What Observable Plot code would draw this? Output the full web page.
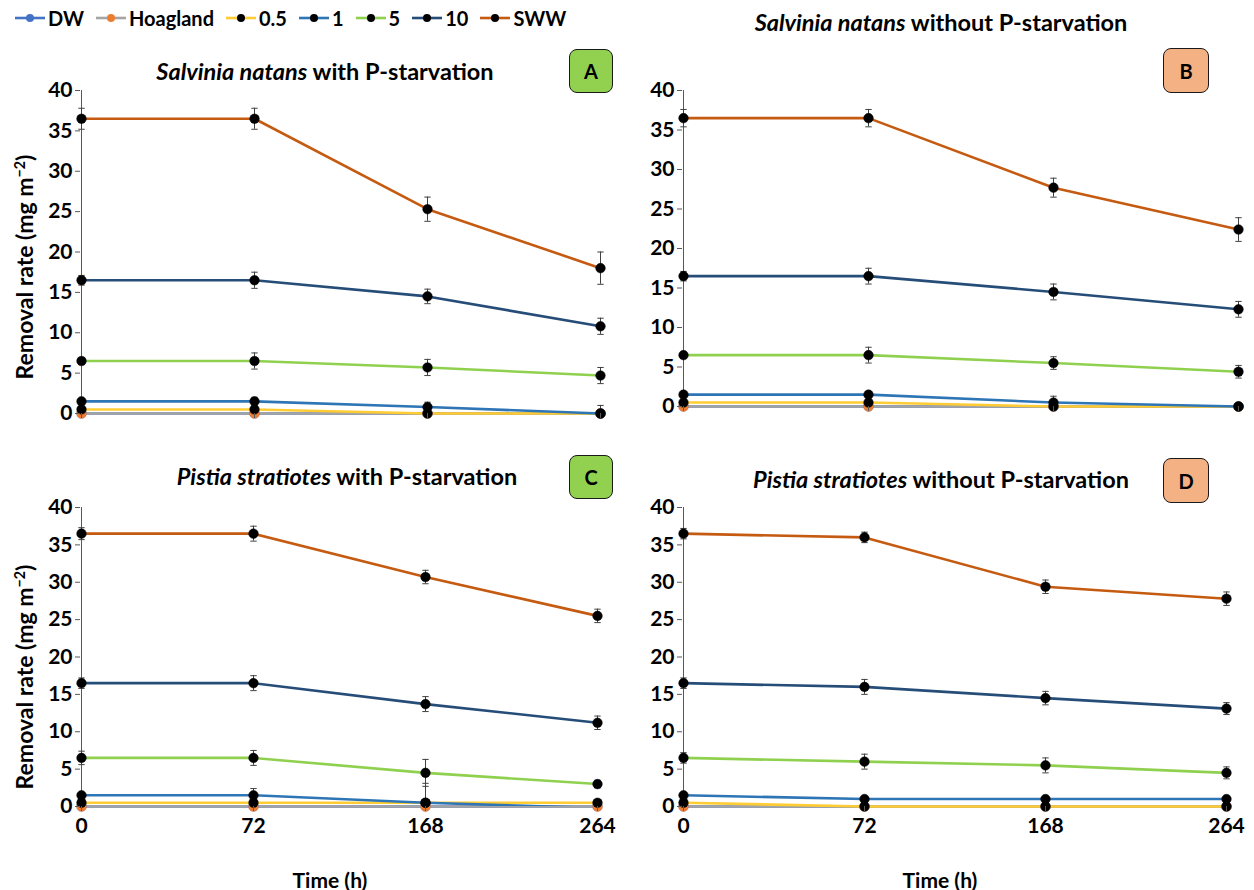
<!DOCTYPE html>
<html>
<head>
<meta charset="utf-8">
<script src="https://cdn.jsdelivr.net/npm/d3@7"></script>
<script src="https://cdn.jsdelivr.net/npm/@observablehq/plot@0.6"></script>
<style>
  body { margin: 0; background: #fff; font-family: Lato, "Open Sans", sans-serif; color: #000; }
  #root { position: relative; width: 1254px; height: 890px; overflow: hidden; }
  .abs { position: absolute; }
  .ptitle { font-size: 23.5px; font-weight: 700; white-space: nowrap; transform: translate(-50%, -50%); }
  .badge { box-sizing: border-box; border: 1.6px solid #1a1a1a; border-radius: 8px; display: flex;
           align-items: center; justify-content: center; font-size: 20px; font-weight: 700; }
  .ylab { font-size: 23px; font-weight: 700; white-space: nowrap; transform: translate(-50%, -50%) rotate(-90deg); }
  .xlab { font-size: 21px; font-weight: 700; white-space: nowrap; transform: translate(-50%, -50%); }
  .legend { display: flex; align-items: center; font-size: 20px; font-weight: 700; white-space: nowrap; }
  .legend .item { display: flex; align-items: center; margin-right: 11px; }
  .legend svg { margin-right: 2px; }
  sup { font-size: 0.62em; vertical-align: 0.55em; line-height: 0; }
</style>
</head>
<body>
<div id="root"></div>
<script>
// Sampling times (h)
const times = [0, 72, 168, 264];
// Treatments (P concentrations in mg/L, controls and synthetic wastewater)
const seriesNames = ["DW", "Hoagland", "0.5", "1", "5", "10", "SWW"];
const lineColors = ["#4472C4", "#A5A5A5", "#FFCC33", "#2E75B6", "#8FD14F", "#264D78", "#C55A11"];
const markerColors = ["#4472C4", "#ED7D31", "#000000", "#000000", "#000000", "#000000", "#000000"];
const yTicks = [0, 5, 10, 15, 20, 25, 30, 35, 40];

// Mean removal rate (mg m-2): one row per treatment, one column per time
const meanA = [
  [0, 0, 0, 0],
  [0, 0, 0, 0],
  [0.5, 0.5, 0, 0],
  [1.5, 1.5, 0.8, 0],
  [6.5, 6.5, 5.7, 4.7],
  [16.5, 16.5, 14.5, 10.8],
  [36.5, 36.5, 25.3, 18.0]
];
const errA = [
  [0, 0, 0, 0],
  [0, 0, 0, 0],
  [0.1, 0.1, 0, 0],
  [0.3, 0.5, 0.6, 1.0],
  [0.3, 1.0, 1.0, 1.0],
  [0.6, 1.0, 0.9, 1.0],
  [1.3, 1.3, 1.5, 2.0]
];
const meanB = [
  [0, 0, 0, 0],
  [0, 0, 0, 0],
  [0.5, 0.5, 0, 0],
  [1.5, 1.5, 0.5, 0],
  [6.5, 6.5, 5.5, 4.4],
  [16.5, 16.5, 14.5, 12.3],
  [36.5, 36.5, 27.7, 22.4]
];
const errB = [
  [0, 0, 0, 0],
  [0, 0, 0, 0],
  [0.1, 0.1, 0, 0],
  [0.3, 0.4, 0.8, 0.2],
  [0.3, 1.0, 0.8, 0.8],
  [0.6, 1.0, 1.0, 1.0],
  [1.1, 1.1, 1.2, 1.5]
];
const meanC = [
  [0, 0, 0, 0],
  [0, 0, 0, 0],
  [0.5, 0.5, 0.5, 0.5],
  [1.5, 1.5, 0.5, -0.2],
  [6.5, 6.5, 4.5, 3.0],
  [16.5, 16.5, 13.7, 11.2],
  [36.5, 36.5, 30.7, 25.5]
];
const errC = [
  [0, 0, 0, 0],
  [0, 0, 0, 0],
  [0.1, 0.1, 0.1, 0.1],
  [0.3, 0.9, 2.6, 0],
  [0.9, 1.0, 1.8, 0.5],
  [0.7, 1.0, 1.0, 0.9],
  [0.8, 1.0, 0.9, 0.9]
];
const meanD = [
  [0, 0, 0, 0],
  [0, 0, 0, 0],
  [0.5, 0, 0, 0],
  [1.5, 1.0, 1.0, 1.0],
  [6.5, 6.0, 5.5, 4.5],
  [16.5, 16.0, 14.5, 13.1],
  [36.5, 36.0, 29.4, 27.8]
];
const errD = [
  [0, 0, 0, 0],
  [0, 0, 0, 0],
  [0.1, 0, 0, 0],
  [0.2, 0.2, 0.2, 0.2],
  [0.7, 1.0, 1.0, 0.8],
  [0.7, 1.0, 0.9, 0.8],
  [0.7, 0.7, 0.9, 0.9]
];

const speciesNames = ["Salvinia natans", "Salvinia natans", "Pistia stratiotes", "Pistia stratiotes"];
const conditionNames = ["with P-starvation", "without P-starvation", "with P-starvation", "without P-starvation"];
const panelLetters = ["A", "B", "C", "D"];
const badgeColors = ["#92D050", "#F4B183", "#92D050", "#F4B183"];

const root = document.getElementById("root");
const FONT = "Lato, 'Open Sans', sans-serif";

// horizontal cap drawn as a dot symbol for error bars
const capSymbol = {
  draw(context, size) {
    const r = Math.sqrt(size / Math.PI);
    context.moveTo(-r, 0);
    context.lineTo(r, 0);
  }
};

function toRows(mean, err) {
  const out = [];
  seriesNames.forEach((s, i) => times.forEach((t, j) => out.push({s, k: i, t, v: mean[i][j], e: err[i][j]})));
  return out;
}

function makePanel(mean, err, box) {
  const rows = toRows(mean, err);
  const marks = [];
  // y axis line
  marks.push(Plot.ruleX([0], {y1: 0, y2: 40, stroke: "#595959", strokeWidth: 1}));
  // lines, one per treatment
  seriesNames.forEach((s, i) => {
    const d = rows.filter(r => r.k === i);
    const hasNeg = d.some(r => r.v < 0);
    marks.push(Plot.line(d, {x: "t", y: "v", stroke: lineColors[i], strokeWidth: 2.6, clip: hasNeg}));
  });
  // error bars (clamped at the axis minimum)
  const eb = rows.filter(r => r.e > 0 && r.v >= 0);
  marks.push(Plot.ruleX(eb, {x: "t", y1: r => Math.max(0, r.v - r.e), y2: r => r.v + r.e, stroke: "#404040", strokeWidth: 1}));
  const caps = [];
  eb.forEach(r => {
    caps.push({t: r.t, y: r.v + r.e});
    if (r.v - r.e >= 0) caps.push({t: r.t, y: r.v - r.e});
  });
  marks.push(Plot.dot(caps, {x: "t", y: "y", symbol: capSymbol, r: 3.2, stroke: "#404040", fill: "none", strokeWidth: 1}));
  // markers
  seriesNames.forEach((s, i) => {
    const d = rows.filter(r => r.k === i && r.v >= 0);
    marks.push(Plot.dot(d, {x: "t", y: "v", r: 4.8, fill: markerColors[i], stroke: markerColors[i], strokeWidth: 0.5}));
  });
  marks.push(Plot.axisY({ticks: yTicks, tickSize: 5, tickPadding: 3, stroke: "#595959",
    fontSize: 21, fontWeight: 700, fill: "#000", label: null}));
  marks.push(Plot.axisX({ticks: times, tickSize: 5, tickPadding: 7, stroke: "#595959",
    fontSize: 21, fontWeight: 700, fill: "#000", label: null,
    tickFormat: box.xLabels ? (d => String(d)) : (() => "")}));

  const svg = Plot.plot({
    width: box.w, height: box.h,
    marginLeft: box.ml, marginRight: box.mr, marginTop: box.mt, marginBottom: box.mb,
    style: {fontFamily: FONT, overflow: "visible", background: "transparent"},
    x: {type: "point", domain: times, padding: 0},
    y: {domain: [0, 40]},
    marks
  });
  svg.classList.add("abs");
  svg.style.left = box.left + "px";
  svg.style.top = box.top + "px";
  root.appendChild(svg);
}

const boxes = [
  {left: 0,   top: 80,  w: 627, h: 345, ml: 80, mr: 26, mt: 10, mb: 12, xLabels: false},
  {left: 627, top: 80,  w: 627, h: 338, ml: 55, mr: 16, mt: 10, mb: 12, xLabels: false},
  {left: 0,   top: 495, w: 627, h: 351, ml: 80, mr: 29, mt: 12, mb: 40, xLabels: true},
  {left: 627, top: 495, w: 627, h: 351, ml: 55, mr: 28, mt: 12, mb: 40, xLabels: true}
];
[[meanA, errA], [meanB, errB], [meanC, errC], [meanD, errD]].forEach(([m, e], i) => makePanel(m, e, boxes[i]));

// panel titles and badges
const titlePos = [[325, 71], [941, 22], [347, 476], [941, 479]];
const badgePos = [[569, 49, 44, 44], [1163, 48, 46, 45], [569, 455, 44, 44], [1163, 458, 46, 45]];
panelLetters.forEach((L, i) => {
  const t = document.createElement("div");
  t.className = "abs ptitle";
  t.style.left = titlePos[i][0] + "px";
  t.style.top = titlePos[i][1] + "px";
  t.innerHTML = `<i>${speciesNames[i]}</i> ${conditionNames[i]}`;
  root.appendChild(t);
  const b = document.createElement("div");
  b.className = "abs badge";
  b.style.left = badgePos[i][0] + "px";
  b.style.top = badgePos[i][1] + "px";
  b.style.width = badgePos[i][2] + "px";
  b.style.height = badgePos[i][3] + "px";
  b.style.background = badgeColors[i];
  b.textContent = L;
  root.appendChild(b);
});

// axis titles
[[24, 267], [24, 677]].forEach(([x, y]) => {
  const d = document.createElement("div");
  d.className = "abs ylab";
  d.style.left = x + "px";
  d.style.top = y + "px";
  d.innerHTML = "Removal rate (mg m<sup>\u22122</sup>)";
  root.appendChild(d);
});
[[330, 879], [940, 879]].forEach(([x, y]) => {
  const d = document.createElement("div");
  d.className = "abs xlab";
  d.style.left = x + "px";
  d.style.top = y + "px";
  d.textContent = "Time (h)";
  root.appendChild(d);
});

// legend
const legend = document.createElement("div");
legend.className = "abs legend";
legend.style.left = "14px";
legend.style.top = "6px";
seriesNames.forEach((s, i) => {
  const item = document.createElement("div");
  item.className = "item";
  item.innerHTML = `<svg width="32" height="14"><line x1="1" x2="31" y1="7" y2="7" stroke="${lineColors[i]}" stroke-width="2.6"/>` +
    `<circle cx="16" cy="7" r="4" fill="${markerColors[i]}"/></svg><span>${s}</span>`;
  legend.appendChild(item);
});
root.appendChild(legend);
</script>
</body>
</html>
